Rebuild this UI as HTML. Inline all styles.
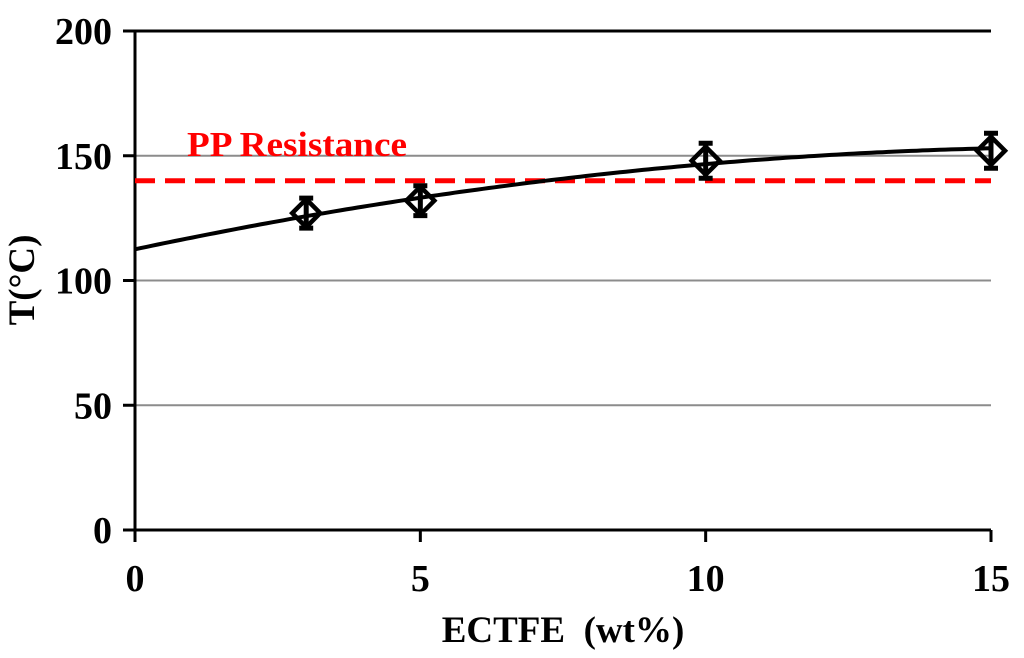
<!DOCTYPE html>
<html><head><meta charset="utf-8"><style>
body{margin:0;background:#fff;}
svg text{font-family:"Liberation Serif",serif;font-weight:bold;}
</style></head><body>
<svg id="chart" width="1024" height="653">
<g id="grid"></g><g id="axes"></g><g id="marks"></g>
<text x="187" y="156" font-size="35" fill="#ff0000" textLength="220" lengthAdjust="spacingAndGlyphs">PP Resistance</text>
<text x="563" y="642" font-size="37" text-anchor="middle" xml:space="preserve">ECTFE  (wt%)</text>
<text transform="translate(34,280) rotate(-90)" font-size="37" text-anchor="middle">T(°C)</text>
</svg>
<script>
const xTicks=[0,5,10,15];
const yTicks=[0,50,100,150,200];
const xs=[3,5,10,15];
const ys=[127,132,148,152];
const errs=[6,6,7,7];
const threshold=[140];
const trend=[112.5,4.852,-0.1435];
const NS="http://www.w3.org/2000/svg";
const X=v=>135+v*(991-135)/15;
const Y=v=>530-v*(530-31)/200;
function mk(t,a,p){const e=document.createElementNS(NS,t);for(const k in a)e.setAttribute(k,a[k]);(p||document.getElementById('marks')).appendChild(e);return e;}
const grid=document.getElementById('grid'),axes=document.getElementById('axes');
yTicks.forEach(v=>{if(v>0){const l=mk('line',{x1:135,x2:991,y1:Y(v),y2:Y(v),stroke:v==200?'#000':'#8c8c8c','stroke-width':v==200?3:2},grid);

}
const tk=mk('line',{x1:123,x2:135,y1:Y(v),y2:Y(v),stroke:'#000','stroke-width':3},axes);


const t=mk('text',{x:112,y:Y(v)+13,'font-size':38,'text-anchor':'end'},axes);t.textContent=v;

});
xTicks.forEach(v=>{const tk=mk('line',{x1:X(v),x2:X(v),y1:530,y2:542,stroke:'#000','stroke-width':3},axes);


const t=mk('text',{x:X(v),y:591,'font-size':38,'text-anchor':'middle'},axes);t.textContent=v;

});
const ax=mk('path',{d:`M135 31V530H991`,fill:'none',stroke:'#000','stroke-width':3},axes);


const th=mk('line',{x1:135,x2:991,y1:Y(threshold[0]),y2:Y(threshold[0]),stroke:'#ff0000','stroke-width':5,'stroke-dasharray':'20,10'});


let d='';for(let i=0;i<=150;i++){const x=i/10;const y=trend[0]+trend[1]*x+trend[2]*x*x;d+=(i?'L':'M')+X(x).toFixed(1)+' '+Y(y).toFixed(1);}
const tr=mk('path',{d,fill:'none',stroke:'#000','stroke-width':4});


xs.forEach((x,i)=>{const cx=X(x),cy=Y(ys[i]),e=errs[i]*(499/200);
const eb=mk('path',{d:`M${cx} ${cy-e}V${cy+e}M${cx-7} ${cy-e}H${cx+7}M${cx-7} ${cy+e}H${cx+7}`,stroke:'#000','stroke-width':5,fill:'none'});


const p=mk('path',{d:`M${cx} ${cy-14}L${cx+14} ${cy}L${cx} ${cy+14}L${cx-14} ${cy}Z`,fill:'none',stroke:'#000','stroke-width':4.5});

});
</script>
</body></html>
